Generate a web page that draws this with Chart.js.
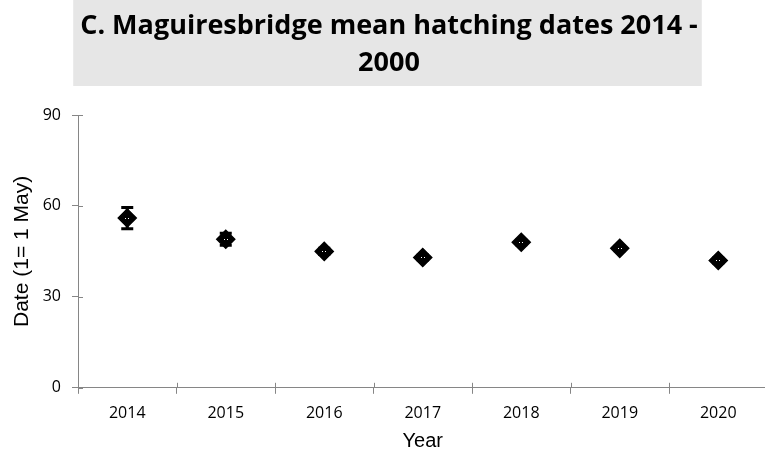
<!DOCTYPE html>
<html>
<head>
<meta charset="utf-8">
<script src="https://cdn.jsdelivr.net/npm/chart.js@4/dist/chart.umd.min.js"></script>
<style>
    html, body { margin: 0; padding: 0; background: #fff; overflow: hidden; }
    #chart { display: block; }
</style>
</head>
<body>
<canvas id="chart" width="778" height="453" style="width:778px;height:453px"></canvas>
<script>
// values
const years = ["2014", "2015", "2016", "2017", "2018", "2019", "2020"];
const meanDates = [56, 49, 45, 43, 48, 46, 42];
const errors = [3.5, 2, 1, 0.8, 0.8, 0.8, 0.8];
const yTicks = [0, 30, 60, 90];
const titleLines = ["C. Maguiresbridge mean hatching dates 2014 -", "2000"];

const axisGrey = "#868686";
const titlePadTop = 8;
const titleLineH = 37;

// grey box behind the chart title
const titleBox = {
    id: "titleBox",
    beforeDraw(chart) {
        const tb = chart.titleBlock;
        if (!tb) return;
        const ctx = chart.ctx;
        ctx.save();
        ctx.font = "bold 27px 'Open Sans'";
        const w = ctx.measureText(titleLines[0]).width;
        const cx = tb.left + tb.width / 2;
        const h = titlePadTop + titleLines.length * titleLineH + 4;
        ctx.fillStyle = "#e6e6e6";
        ctx.fillRect(cx - w / 2 - 7, tb.top, w + 11, h);
        ctx.restore();
    }
};

// tick marks crossing the axes, plus error bars
const crossTicks = {
    id: "crossTicks",
    afterDraw(chart) {
        const { ctx, scales: { x, y } } = chart;
        ctx.save();
        ctx.strokeStyle = axisGrey;
        ctx.lineWidth = 1;
        ctx.beginPath();
        yTicks.forEach(v => {
            const py = Math.round(y.getPixelForValue(v)) + 0.5;
            ctx.moveTo(x.left, py);
            ctx.lineTo(x.left + 5, py);
        });
        for (let i = 0; i <= years.length; i++) {
            const px = Math.round(x.getPixelForValue(i - 0.5)) + 0.5;
            ctx.moveTo(px, y.bottom);
            ctx.lineTo(px, y.bottom - 5);
        }
        ctx.stroke();
        ctx.restore();
    },
    afterDatasetsDraw(chart) {
        const { ctx, scales: { x, y } } = chart;
        ctx.save();
        ctx.strokeStyle = "#000";
        ctx.lineWidth = 3;
        meanDates.forEach((v, i) => {
            const px = x.getPixelForValue(i);
            const top = y.getPixelForValue(v + errors[i]);
            const bot = y.getPixelForValue(v - errors[i]);
            ctx.beginPath();
            ctx.moveTo(px, top);
            ctx.lineTo(px, bot);
            ctx.moveTo(px - 6, top);
            ctx.lineTo(px + 6, top);
            ctx.moveTo(px - 6, bot);
            ctx.lineTo(px + 6, bot);
            ctx.stroke();
            // small white marks in the centre of each marker
            const py = Math.round(y.getPixelForValue(v));
            const cx = Math.round(px);
            ctx.fillStyle = "#fff";
            ctx.fillRect(cx - 2, py, 1, 1);
            ctx.fillRect(cx + 1, py, 1, 1);
        });
        ctx.restore();
    }
};

new Chart(document.getElementById("chart"), {
    type: "line",
    data: {
        labels: years,
        datasets: [{
            data: meanDates,
            showLine: false,
            pointStyle: "rectRot",
            pointRadius: 9,
            pointBorderWidth: 1.5,
            pointBackgroundColor: "#000",
            pointBorderColor: "#000"
        }]
    },
    options: {
        responsive: false,
        animation: false,
        layout: { padding: { left: 7, right: 7, top: 0, bottom: 0 } },
        plugins: {
            legend: { display: false },
            tooltip: { enabled: false },
            title: {
                display: true,
                text: titleLines,
                color: "#000",
                font: { family: "'Open Sans'", size: 27, weight: "bold", lineHeight: titleLineH / 27 },
                padding: { top: titlePadTop, bottom: 33 }
            }
        },
        scales: {
            x: {
                offset: true,
                border: { color: axisGrey, width: 1 },
                grid: { offset: true, drawOnChartArea: false, drawTicks: true, tickLength: 6, color: axisGrey },
                ticks: { color: "#000", padding: 10, font: { family: "'Open Sans'", size: 16 }, maxRotation: 0 },
                title: {
                    display: true,
                    text: "Year",
                    color: "#000",
                    font: { family: "'Liberation Sans'", size: 20, lineHeight: 1 },
                    padding: { top: -2, bottom: 2 }
                }
            },
            y: {
                min: 0,
                max: 90,
                afterFit(scale) { scale.width = 71; },
                afterBuildTicks(scale) { scale.ticks = yTicks.map(v => ({ value: v })); },
                border: { color: axisGrey, width: 1 },
                grid: { drawOnChartArea: false, drawTicks: true, tickLength: 6, color: axisGrey },
                ticks: { color: "#000", padding: 11, font: { family: "'Open Sans'", size: 16 } },
                title: {
                    display: true,
                    text: "Date (1= 1 May)",
                    color: "#000",
                    font: { family: "'Liberation Sans'", size: 21 },
                    padding: { top: 3, bottom: 0 }
                }
            }
        }
    },
    plugins: [titleBox, crossTicks]
});
</script>
</body>
</html>
